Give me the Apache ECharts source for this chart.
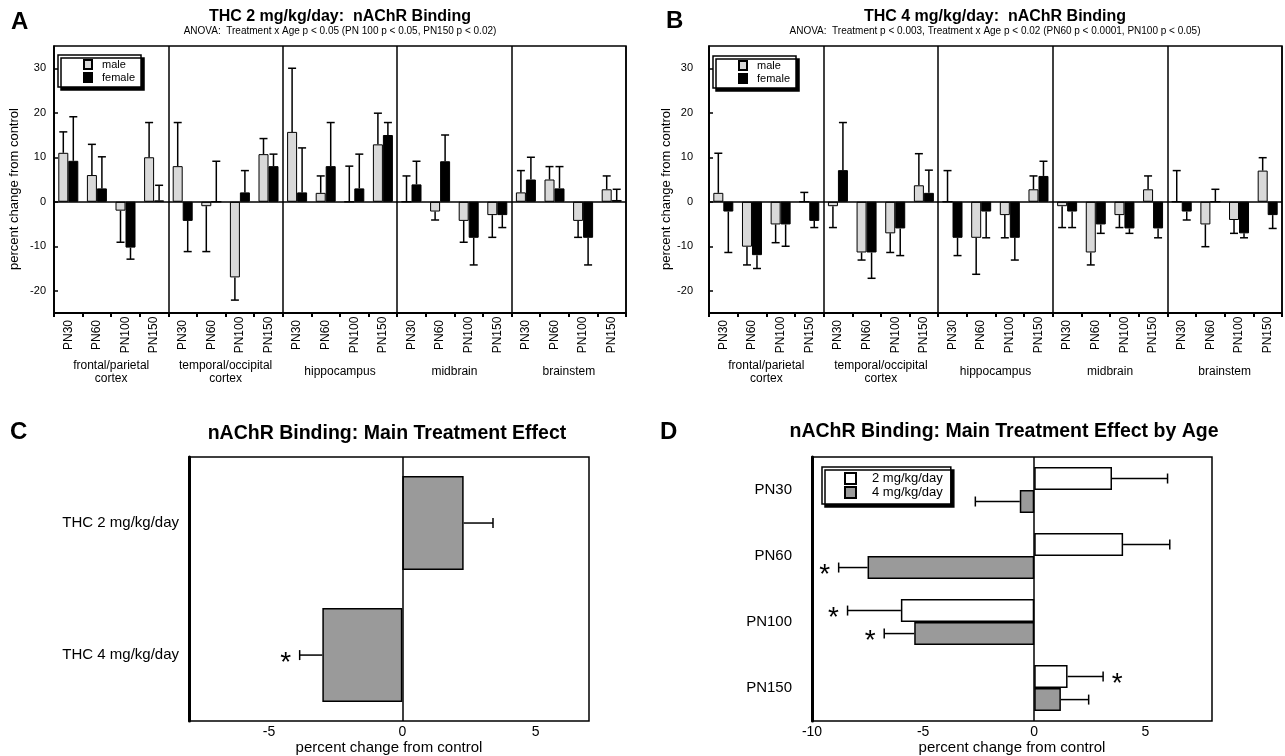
<!DOCTYPE html>
<html>
<head>
<meta charset="utf-8">
<script src="https://cdn.jsdelivr.net/npm/echarts@6/dist/echarts.min.js"></script>
<style>
  html, body { margin: 0; padding: 0; background: #fff; }
  #chart { width: 1285px; height: 756px; }
</style>
</head>
<body>
<div id="chart"></div>
<script>
// ---- data ----
const pnAges = ['PN30', 'PN60', 'PN100', 'PN150'];
const regionNames = ['frontal/parietal\ncortex', 'temporal/occipital\ncortex', 'hippocampus', 'midbrain', 'brainstem'];
const pctTicks = [-20, -10, 0, 10, 20, 30];

// panel A: THC 2 mg/kg/day (bar value, error tip)
const maleA      = [11, 6, -2, 10,   8, -1, -17, 10.7,   15.7, 2, 0, 12.9,   0, -2.2, -4.3, -3,   2.1, 5, -4.3, 2.8];
const maleTipA   = [15.7, 12.9, -9.1, 17.8,   17.8, -11.2, -22.1, 14.2,   30, 5.8, 8, 19.9,   5.8, -4.1, -9.1, -8,   7, 7.9, -8, 5.8];
const femaleA    = [9.2, 3, -10.3, 0.3,   -4.3, 0, 2.1, 8,   2.1, 8, 3, 15,   3.9, 9.1, -8.1, -3,   5, 3, -8.1, 0.4];
const femaleTipA = [19.1, 10.1, -12.9, 3.7,   -11.2, 9.1, 7, 10.7,   12.1, 17.8, 10.7, 17.8,   9.1, 15, -14.2, -5.8,   10, 7.9, -14.2, 2.8];

// panel B: THC 4 mg/kg/day
const maleB      = [2, -10.1, -5.1, 0,   -1, -11.4, -7.1, 3.7,   0, -8.1, -3, 2.8,   -1, -11.4, -3, 2.8,   0, -5.1, -4.1, 7];
const maleTipB   = [10.9, -14.2, -9.2, 2.1,   -5.8, -13.1, -11.4, 10.8,   7, -16.3, -8.1, 5.8,   -5.8, -14.2, -5.8, 5.8,   7, -10.1, -7.1, 9.9];
const femaleB    = [-2.2, -12, -5.1, -4.3,   7.1, -11.4, -6, 2,   -8.1, -2.2, -8.1, 5.8,   -2.2, -5.1, -6, -6,   -2.2, 0, -7.1, -3];
const femaleTipB = [-11.4, -15, -10, -5.8,   17.8, -17.2, -12.1, 7.1,   -12.1, -8.1, -13.1, 9.1,   -5.8, -7.1, -7.1, -8.1,   -4.1, 2.8, -8.1, -6];

// panel C: main treatment effect
const doseLabels = ['THC 2 mg/kg/day', 'THC 4 mg/kg/day'];
const doseValues = [2.3, -3.0];
const doseTips   = [3.4, -3.85];
const doseStars  = [0, 1];

// panel D: main treatment effect by age
const d2Values = [3.5, 4.0, -6.0, 1.5];
const d2Tips   = [6.0, 6.1, -8.4, 3.1];
const d2Stars  = [0, 0, 1, 1];
const d4Values = [-0.65, -7.5, -5.4, 1.2];
const d4Tips   = [-2.65, -8.8, -6.75, 2.45];
const d4Stars  = [0, 1, 1, 0];

const abLabels = regionNames.flatMap(() => pnAges);
const FONT = 'Liberation Sans';

const chart = echarts.init(document.getElementById('chart'));

function star(x, y) {
  return {
    type: 'text',
    style: { text: '*', x: x, y: y + 8, textAlign: 'center', textVerticalAlign: 'middle',
             align: 'center', verticalAlign: 'middle', font: '28px "' + FONT + '"', fill: '#000' }
  };
}

// one-sided error bars (mean -> tip) with cap, optional star beyond the tip
function errorBars(name, xi, yi, means, tips, stars, horizontal, offset, capHalf) {
  return {
    type: 'custom', name: name, xAxisIndex: xi, yAxisIndex: yi, z: 5, silent: true,
    encode: horizontal ? { x: [1, 2], y: 0 } : { x: 0, y: [1, 2] },
    data: means.map((m, i) => [i, m, tips[i], stars ? stars[i] : 0]),
    renderItem: function (params, api) {
      const i = api.value(0), m = api.value(1), t = api.value(2), s = api.value(3);
      const ls = { stroke: '#000', lineWidth: 1.5 };
      const kids = [];
      if (horizontal) {
        const a = api.coord([m, i]), b = api.coord([t, i]);
        const y = a[1] + offset;
        kids.push({ type: 'line', shape: { x1: a[0], y1: y, x2: b[0], y2: y }, style: ls });
        kids.push({ type: 'line', shape: { x1: b[0], y1: y - capHalf, x2: b[0], y2: y + capHalf }, style: ls });
        if (s) kids.push(star(b[0] + (t < m ? -14 : 14), y));
      } else {
        const a = api.coord([i, m]), b = api.coord([i, t]);
        const x = a[0] + offset;
        kids.push({ type: 'line', shape: { x1: x, y1: a[1], x2: x, y2: b[1] }, style: ls });
        kids.push({ type: 'line', shape: { x1: x - capHalf, y1: b[1], x2: x + capHalf, y2: b[1] }, style: ls });
      }
      return { type: 'group', children: kids };
    }
  };
}

function pctAxis(gi, labelMargin) {
  return {
    gridIndex: gi, type: 'value', min: -25, max: 35, interval: 5,
    name: 'percent change from control', nameLocation: 'middle', nameGap: 33,
    nameTextStyle: { fontSize: 13, color: '#000', padding: [0, 19, 0, 0] },
    axisLine: { show: true, lineStyle: { color: '#000', width: 1.5 } },
    axisTick: { show: true, inside: true, length: 4, customValues: pctTicks, lineStyle: { color: '#000', width: 1.5 } },
    axisLabel: { customValues: pctTicks, margin: labelMargin, fontSize: 11, color: '#000' },
    splitLine: { show: false }
  };
}

function ageAxis(gi) {
  return {
    gridIndex: gi, type: 'category', data: abLabels, position: 'bottom',
    axisLine: { onZero: false, lineStyle: { color: '#000', width: 2 } },
    axisTick: { show: true, length: 4, lineStyle: { color: '#000', width: 2 } },
    axisLabel: { interval: 0, rotate: 90, align: 'center', verticalAlign: 'middle', margin: 22, fontSize: 12, color: '#000' },
    splitLine: { show: false }
  };
}

function regionAxis(gi) {
  return {
    gridIndex: gi, type: 'category', data: regionNames, position: 'bottom',
    axisLine: { show: false, onZero: false },
    axisTick: { show: false },
    axisLabel: { interval: 0, verticalAlign: 'middle', margin: 59, fontSize: 12, lineHeight: 13, color: '#000' },
    splitLine: { show: true, lineStyle: { color: '#000', width: 1.5 } }
  };
}

const zeroLineH = { silent: true, symbol: ['none', 'none'], label: { show: false },
  lineStyle: { color: '#000', width: 1.5, type: 'solid' }, data: [{ yAxis: 0 }] };
const zeroLineV = { silent: true, symbol: ['none', 'none'], label: { show: false },
  lineStyle: { color: '#000', width: 1.5, type: 'solid' }, data: [{ xAxis: 0 }] };

const legendBox = {
  orient: 'vertical', selectedMode: false, icon: 'rect', backgroundColor: '#fff',
  borderColor: '#000', borderWidth: 1.5, shadowColor: '#000', shadowBlur: 0,
  shadowOffsetX: 3, shadowOffsetY: 3
};

const maleStyle = { color: '#d9d9d9', borderColor: '#000', borderWidth: 1 };
const femaleStyle = { color: '#000', borderColor: '#000', borderWidth: 1 };

chart.setOption({
  animation: false,
  textStyle: { fontFamily: FONT, color: '#000' },
  title: [
    { text: 'THC 2 mg/kg/day:  nAChR Binding',
      subtext: 'ANOVA:  Treatment x Age p < 0.05 (PN 100 p < 0.05, PN150 p < 0.02)',
      left: 340, top: 9, textAlign: 'center', padding: 0, itemGap: 1,
      textStyle: { fontSize: 16, fontWeight: 'bold', color: '#000' },
      subtextStyle: { fontSize: 10, color: '#000' } },
    { text: 'THC 4 mg/kg/day:  nAChR Binding',
      subtext: 'ANOVA:  Treatment p < 0.003, Treatment x Age p < 0.02 (PN60 p < 0.0001, PN100 p < 0.05)',
      left: 995, top: 9, textAlign: 'center', padding: 0, itemGap: 1,
      textStyle: { fontSize: 16, fontWeight: 'bold', color: '#000' },
      subtextStyle: { fontSize: 10, color: '#000' } },
    { text: 'nAChR Binding: Main Treatment Effect', left: 387, top: 424, textAlign: 'center', padding: 0,
      textStyle: { fontSize: 19.5, fontWeight: 'bold', color: '#000' } },
    { text: 'nAChR Binding: Main Treatment Effect by Age', left: 1004, top: 422, textAlign: 'center', padding: 0,
      textStyle: { fontSize: 19.5, fontWeight: 'bold', color: '#000' } }
  ],
  legend: [
    Object.assign({}, legendBox, { data: ['male', 'female'], left: 58, top: 55, padding: [4, 6, 4, 25],
      itemWidth: 8, itemHeight: 9, itemGap: 2, textStyle: { fontSize: 11, color: '#000', padding: [0, 0, 0, 5] } }),
    Object.assign({}, legendBox, { data: ['male', 'female'], left: 713, top: 56, padding: [4, 6, 4, 25],
      itemWidth: 8, itemHeight: 9, itemGap: 2, textStyle: { fontSize: 11, color: '#000', padding: [0, 0, 0, 5] } }),
    Object.assign({}, legendBox, { data: ['2 mg/kg/day', '4 mg/kg/day'], left: 822, top: 467, padding: [5, 8, 5, 22],
      itemWidth: 11, itemHeight: 11, itemGap: 1, textStyle: { fontSize: 13, color: '#000', padding: [0, 0, 0, 11] } })
  ],
  grid: [
    { left: 54, right: 659, top: 46, bottom: 443, show: true, borderColor: '#000', borderWidth: 1.5 },
    { left: 709, right: 3, top: 46, bottom: 443, show: true, borderColor: '#000', borderWidth: 1.5 },
    { left: 189, right: 696, top: 457, bottom: 34, show: true, borderColor: '#000', borderWidth: 1.5 },
    { left: 812, right: 73, top: 457, bottom: 34, show: true, borderColor: '#000', borderWidth: 1.5 }
  ],
  xAxis: [
    ageAxis(0), regionAxis(0), ageAxis(1), regionAxis(1),
    { gridIndex: 2, type: 'value', min: -8, max: 7, interval: 1,
      name: 'percent change from control', nameLocation: 'middle', nameGap: 17,
      nameTextStyle: { fontSize: 15, color: '#000' },
      axisLine: { onZero: false, lineStyle: { color: '#000', width: 1.5 } },
      axisTick: { inside: true, length: 5, customValues: [-5, 0, 5], lineStyle: { color: '#000', width: 1.5 } },
      axisLabel: { customValues: [-5, 0, 5], margin: 4, fontSize: 14, color: '#000' },
      splitLine: { show: false } },
    { gridIndex: 3, type: 'value', min: -10, max: 8, interval: 5,
      name: 'percent change from control', nameLocation: 'middle', nameGap: 17,
      nameTextStyle: { fontSize: 15, color: '#000' },
      axisLine: { onZero: false, lineStyle: { color: '#000', width: 1.5 } },
      axisTick: { inside: true, length: 5, customValues: [-10, -5, 0, 5], lineStyle: { color: '#000', width: 1.5 } },
      axisLabel: { customValues: [-10, -5, 0, 5], margin: 4, fontSize: 14, color: '#000' },
      splitLine: { show: false } }
  ],
  yAxis: [
    pctAxis(0, 8), pctAxis(1, 16),
    { gridIndex: 2, type: 'category', data: doseLabels, inverse: true,
      axisLine: { onZero: false, lineStyle: { color: '#000', width: 3 } },
      axisTick: { inside: true, length: 5, lineStyle: { color: '#000', width: 3 } },
      axisLabel: { margin: 10, fontSize: 15, color: '#000' } },
    { gridIndex: 3, type: 'category', data: pnAges, inverse: true,
      axisLine: { onZero: false, lineStyle: { color: '#000', width: 3 } },
      axisTick: { inside: true, length: 5, lineStyle: { color: '#000', width: 3 } },
      axisLabel: { margin: 20, fontSize: 15, color: '#000' } }
  ],
  graphic: [
    { type: 'text', left: 11, top: 10, style: { text: 'A', font: 'bold 24px "' + FONT + '"', fill: '#000' } },
    { type: 'text', left: 666, top: 9, style: { text: 'B', font: 'bold 24px "' + FONT + '"', fill: '#000' } },
    { type: 'text', left: 10, top: 420, style: { text: 'C', font: 'bold 24px "' + FONT + '"', fill: '#000' } },
    { type: 'text', left: 660, top: 420, style: { text: 'D', font: 'bold 24px "' + FONT + '"', fill: '#000' } }
  ],
  series: [
    // panel A
    { type: 'bar', name: 'male', xAxisIndex: 0, yAxisIndex: 0, data: maleA, barWidth: 10, barGap: '0%',
      itemStyle: maleStyle, markLine: zeroLineH },
    { type: 'bar', name: 'female', xAxisIndex: 0, yAxisIndex: 0, data: femaleA, barWidth: 10, barGap: '0%',
      itemStyle: femaleStyle },
    errorBars('errMaleA', 0, 0, maleA, maleTipA, null, false, -5, 4),
    errorBars('errFemaleA', 0, 0, femaleA, femaleTipA, null, false, 5, 4),
    // panel B
    { type: 'bar', name: 'male', xAxisIndex: 2, yAxisIndex: 1, data: maleB, barWidth: 10, barGap: '0%',
      itemStyle: maleStyle, markLine: zeroLineH },
    { type: 'bar', name: 'female', xAxisIndex: 2, yAxisIndex: 1, data: femaleB, barWidth: 10, barGap: '0%',
      itemStyle: femaleStyle },
    errorBars('errMaleB', 2, 1, maleB, maleTipB, null, false, -5, 4),
    errorBars('errFemaleB', 2, 1, femaleB, femaleTipB, null, false, 5, 4),
    // panel C
    { type: 'bar', name: 'main', xAxisIndex: 4, yAxisIndex: 2, data: doseValues, barWidth: 94,
      itemStyle: { color: '#9a9a9a', borderColor: '#000', borderWidth: 1.5 }, markLine: zeroLineV },
    errorBars('errC', 4, 2, doseValues, doseTips, doseStars, true, 0, 5),
    // panel D
    { type: 'bar', name: '2 mg/kg/day', xAxisIndex: 5, yAxisIndex: 3, data: d2Values, barWidth: 23, barGap: '0%',
      itemStyle: { color: '#fff', borderColor: '#000', borderWidth: 1.5 }, markLine: zeroLineV },
    { type: 'bar', name: '4 mg/kg/day', xAxisIndex: 5, yAxisIndex: 3, data: d4Values, barWidth: 23, barGap: '0%',
      itemStyle: { color: '#9a9a9a', borderColor: '#000', borderWidth: 1.5 } },
    errorBars('errD2', 5, 3, d2Values, d2Tips, d2Stars, true, -11.5, 5),
    errorBars('errD4', 5, 3, d4Values, d4Tips, d4Stars, true, 11.5, 5)
  ]
});
</script>
</body>
</html>
